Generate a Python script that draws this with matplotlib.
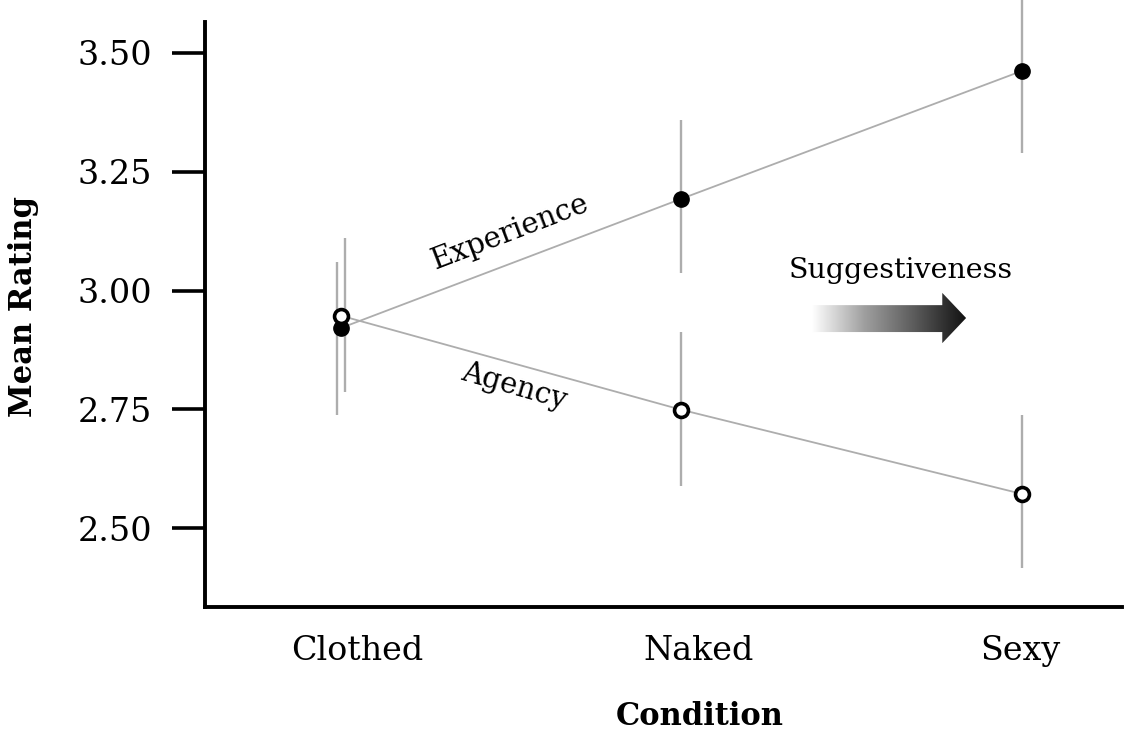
import matplotlib
matplotlib.use("Agg")
import matplotlib.pyplot as plt
import matplotlib.patches as mpatches
import matplotlib.transforms as mtransforms
from matplotlib.colors import LinearSegmentedColormap
import numpy as np

plt.rcParams["font.family"] = "DejaVu Serif"

# data
conditions = ["Clothed", "Naked", "Sexy"]
experience = [2.921, 3.193, 3.462]
experience_lo = [2.738, 3.037, 3.289]
experience_hi = [3.060, 3.359, 3.635]
agency = [2.947, 2.749, 2.572]
agency_lo = [2.786, 2.589, 2.416]
agency_hi = [3.111, 2.913, 2.738]
yticks = [2.50, 2.75, 3.00, 3.25, 3.50]

x = np.arange(len(conditions))
dodge = np.array([0.012, 0.0, 0.0])  # clothed bars sit a little apart

fig = plt.figure(figsize=(11.24, 7.31), dpi=100)
ax = fig.add_axes([205 / 1124, 124 / 731, 917 / 1124, 585 / 731])

errc = "#adadad"
# error bars
ax.vlines(x - dodge, experience_lo, experience_hi, color=errc, lw=1.7, clip_on=False, zorder=1)
ax.vlines(x + dodge, agency_lo, agency_hi, color=errc, lw=1.7, clip_on=False, zorder=1)

# lines + points
ax.plot(x, experience, color=errc, lw=1.3, zorder=2)
ax.plot(x, agency, color=errc, lw=1.3, zorder=2)
ax.plot(x, experience, "o", color="black", ms=11, zorder=4)
ax.plot(x, agency, "o", mfc="white", mec="black", mew=2.6, ms=10, zorder=4)

ax.set_xlim(-0.399, 2.294)
ax.set_ylim(2.334, 3.565)

ax.set_xticks(x)
ax.set_xticklabels(conditions, fontsize=24)
ax.set_yticks(yticks)
ax.set_yticklabels([f"{v:.2f}" for v in yticks], fontsize=24)
ax.tick_params(axis="x", length=0, pad=20)
ax.tick_params(axis="y", length=24, width=2.6, pad=14)

# tick labels sit a bit right of the points for the first two conditions
for lab, dx in zip(ax.get_xticklabels(), [16, 17, -2]):
    lab.set_transform(lab.get_transform() + mtransforms.ScaledTranslation(dx / 100, 0, fig.dpi_scale_trans))

for s in ["top", "right"]:
    ax.spines[s].set_visible(False)
for s in ["left", "bottom"]:
    ax.spines[s].set_linewidth(2.8)

ax.set_xlabel("Condition", fontsize=22, fontweight="bold", va="center")
ax.xaxis.set_label_coords((700 - 205) / 917, -0.188)
ax.set_ylabel("Mean Rating", fontsize=22, fontweight="bold", va="center")
ax.yaxis.set_label_coords(-0.198, (607 - 306) / 585)

# line labels
ax.text(0.497, 3.123, "Experience", fontsize=21, rotation=21, ha="center", va="center")
ax.text(0.508, 2.799, "Agency", fontsize=21, rotation=-16, ha="center", va="center")

# suggestiveness arrow with gradient
ax.text(0.759, 0.576, "Suggestiveness", fontsize=20.5, ha="center", va="center", transform=ax.transAxes)
arrow_pts = [(0.662, 0.470), (0.804, 0.470), (0.804, 0.451), (0.830, 0.494),
             (0.804, 0.537), (0.804, 0.516), (0.662, 0.516)]
arrow = mpatches.Polygon(arrow_pts, closed=True, transform=ax.transAxes,
                         facecolor="none", edgecolor="none")
ax.add_patch(arrow)
cmap = LinearSegmentedColormap.from_list("fade", ["white", "#a0a0a0", "#5a5a5a", "#111111"])
grad = np.linspace(0, 1, 256).reshape(1, -1)
im = ax.imshow(grad, cmap=cmap, extent=[0.662, 0.830, 0.451, 0.537],
               transform=ax.transAxes, aspect="auto", zorder=3)
im.set_clip_path(arrow)

fig.savefig("out.png", dpi=100)
